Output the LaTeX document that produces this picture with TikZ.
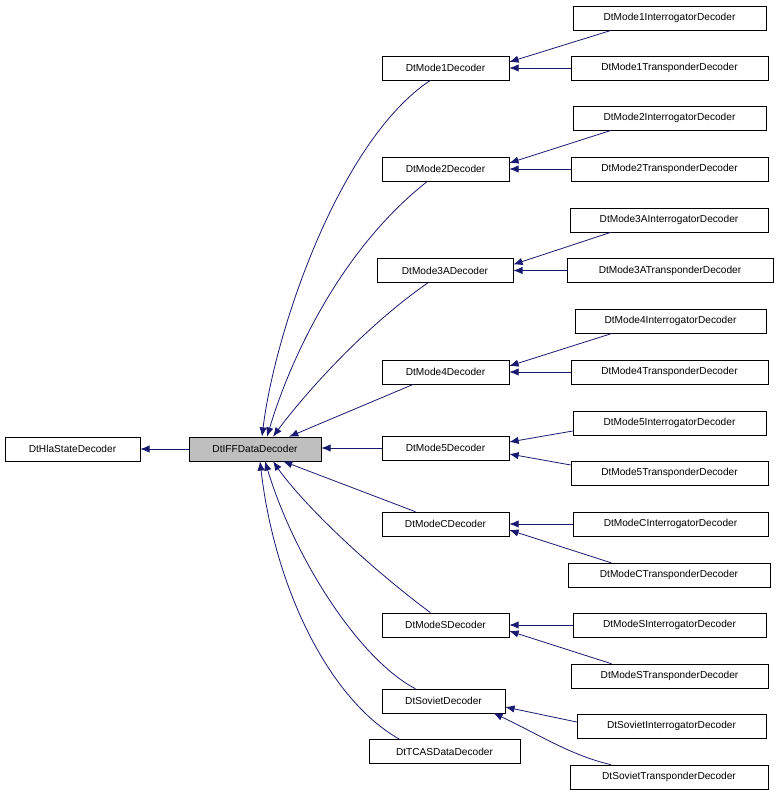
\documentclass[tikz,border=0pt]{standalone}
\usepackage{fontspec}
\setmainfont{Liberation Sans}
\usetikzlibrary{arrows.meta,calc}
\begin{document}
\begin{tikzpicture}[x=0.75pt,y=-0.75pt,
  cls/.style={draw=black,fill=white,font=\fontsize{7.6pt}{9pt}\selectfont,inner sep=0pt,minimum height=18pt,minimum width=#1*0.75pt},
  edge/.style={draw={rgb,255:red,25;green,25;blue,112},line width=0.6pt,-{Latex[length=7pt,width=5.5pt]}}]
\useasboundingbox (0,0) rectangle (779,797);
\node[cls=135] (hla) at (72.5,449) {DtHlaStateDecoder};
\node[cls=132,fill={rgb,255:red,191;green,191;blue,191}] (iff) at (255,449) {DtIFFDataDecoder};
\node[cls=127] (m1) at (445.5,68) {DtMode1Decoder};
\node[cls=127] (m2) at (445.5,169) {DtMode2Decoder};
\node[cls=136] (m3) at (445,270.5) {DtMode3ADecoder};
\node[cls=127] (m4) at (445.5,372) {DtMode4Decoder};
\node[cls=127] (m5) at (445.5,448) {DtMode5Decoder};
\node[cls=127] (mc) at (445.5,524) {DtModeCDecoder};
\node[cls=127] (ms) at (445.5,625) {DtModeSDecoder};
\node[cls=123] (sv) at (443.5,701) {DtSovietDecoder};
\node[cls=151] (tc) at (444.5,751.5) {DtTCASDataDecoder};
\node[cls=193] (m1i) at (669.5,18) {DtMode1InterrogatorDecoder};
\node[cls=197] (m1t) at (669.5,68) {DtMode1TransponderDecoder};
\node[cls=193] (m2i) at (669.5,118) {DtMode2InterrogatorDecoder};
\node[cls=197] (m2t) at (669.5,169) {DtMode2TransponderDecoder};
\node[cls=198] (m3i) at (669,220) {DtMode3AInterrogatorDecoder};
\node[cls=206] (m3t) at (670,270.5) {DtMode3ATransponderDecoder};
\node[cls=191] (m4i) at (670.5,321) {DtMode4InterrogatorDecoder};
\node[cls=197] (m4t) at (669.5,372) {DtMode4TransponderDecoder};
\node[cls=193] (m5i) at (669.5,423) {DtMode5InterrogatorDecoder};
\node[cls=197] (m5t) at (669.5,473) {DtMode5TransponderDecoder};
\node[cls=195] (mci) at (670.5,524) {DtModeCInterrogatorDecoder};
\node[cls=202] (mct) at (669,575) {DtModeCTransponderDecoder};
\node[cls=193] (msi) at (669.5,625) {DtModeSInterrogatorDecoder};
\node[cls=197] (mst) at (669.5,676) {DtModeSTransponderDecoder};
\node[cls=189] (svi) at (671.5,726) {DtSovietInterrogatorDecoder};
\node[cls=198] (svt) at (669,777) {DtSovietTransponderDecoder};
% base
\draw[edge] (iff.west) -- (hla.east);
\draw[edge] ($(m1.south)+(-15,0)$) .. controls (340,140) and (275,330) .. ($(iff.north)+(7,0)$);
\draw[edge] ($(m2.south)+(-18,0)$) .. controls (340,250) and (290,360) .. ($(iff.north)+(12,0)$);
\draw[edge] ($(m3.south)+(-17,0)$) .. controls (360,330) and (300,400) .. ($(iff.north)+(18,0)$);
\draw[edge] ($(m4.south)+(-32,0)$) -- ($(iff.north)+(34,0)$);
\draw[edge] (m5.west) -- (iff.east |- m5.west);
\draw[edge] ($(mc.north)+(-30,0)$) -- ($(iff.south)+(28,0)$);
\draw[edge] ($(ms.north)+(-15,0)$) .. controls (360,560) and (300,500) .. ($(iff.south)+(18,0)$);
\draw[edge] ($(sv.north)+(-28,0)$) .. controls (360,660) and (295,560) .. ($(iff.south)+(10,0)$);
\draw[edge] ($(tc.north)+(-45,0)$) .. controls (330,700) and (275,590) .. ($(iff.south)+(5,0)$);
% right
\draw[edge] ($(m1i.south)+(-58,0)$) -- ($(m1.east)+(0,-6)$);
\draw[edge] (m1t.west) -- (m1.east);
\draw[edge] ($(m2i.south)+(-58,0)$) -- ($(m2.east)+(0,-6)$);
\draw[edge] (m2t.west) -- (m2.east);
\draw[edge] ($(m3i.south)+(-58,0)$) -- ($(m3.east)+(0,-6)$);
\draw[edge] (m3t.west) -- (m3.east);
\draw[edge] ($(m4i.south)+(-58,0)$) -- ($(m4.east)+(0,-6)$);
\draw[edge] (m4t.west) -- (m4.east);
\draw[edge] ($(m5i.west)+(0,8)$) -- ($(m5.east)+(0,-6)$);
\draw[edge] ($(m5t.west)+(0,-8)$) -- ($(m5.east)+(0,6)$);
\draw[edge] (mci.west) -- (mc.east);
\draw[edge] ($(mct.north)+(-58,0)$) -- ($(mc.east)+(0,6)$);
\draw[edge] (msi.west) -- (ms.east);
\draw[edge] ($(mst.north)+(-58,0)$) -- ($(ms.east)+(0,6)$);
\draw[edge] ($(svi.west)+(0,-4)$) -- ($(sv.east)+(0,6)$);
\draw[edge] ($(svt.north)+(-58,0)$) .. controls (570,755) and (540,735) .. ($(sv.east)+(-12,12)$);
\end{tikzpicture}
\end{document}
